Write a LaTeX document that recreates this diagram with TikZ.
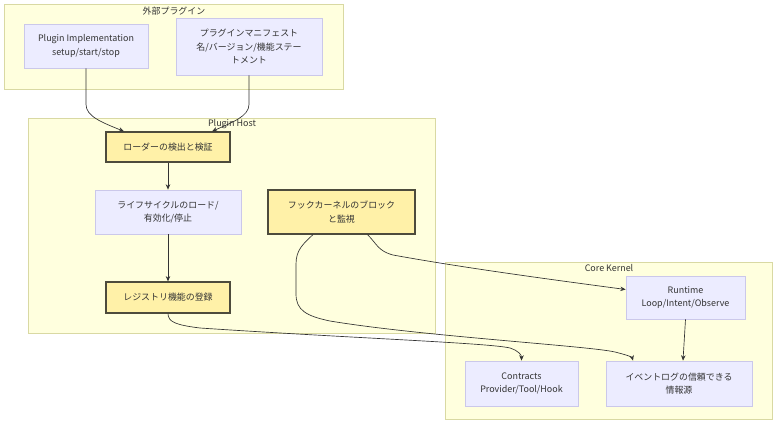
\documentclass[tikz,border=0pt]{standalone}
\usepackage{fontspec}
\setmainfont{Noto Sans CJK JP}
\usetikzlibrary{arrows.meta,calc}
\definecolor{clfill}{HTML}{FFFFDE}
\definecolor{cldraw}{HTML}{D9D9A3}
\definecolor{nfill}{HTML}{ECECFF}
\definecolor{ndraw}{HTML}{CBC8EA}
\definecolor{kfill}{HTML}{FFF1A8}
\definecolor{kdraw}{HTML}{4D4B3C}
\definecolor{ink}{HTML}{333333}
\begin{document}
\begin{tikzpicture}[x=0.75pt,y=-0.75pt,
		font=\fontsize{6.7}{10.2}\selectfont,text=ink,
		cluster/.style={fill=clfill,draw=cldraw,line width=0.6},
		dims/.style 2 args={minimum width=#1*0.75pt,minimum height=#2*0.75pt},
		plain/.style={fill=nfill,draw=ndraw,line width=0.6,align=center,inner sep=0pt},
		key/.style={fill=kfill,draw=kdraw,line width=0.9,align=center,inner sep=0pt},
		link/.style={draw=ink,line width=0.5,-{Stealth[length=4pt,width=3.4pt]}}]
		\useasboundingbox (0,0) rectangle (784,429);
		% subgraphs
		\draw[cluster] (4,4) rectangle (343,89);
		\draw[cluster] (28,118) rectangle (435,333);
		\draw[cluster] (445,262) rectangle (772,419);
		\node (exttitle) at (174,11) {外部プラグイン};
		\node (hosttitle) at (232,124) {Plugin Host};
		\node (coretitle) at (609,268) {Core Kernel};
		% nodes
		\node[plain,dims={124}{44}] (impl) at (86,46) {Plugin Implementation\\setup/start/stop};
		\node[plain,dims={146}{57}] (manifest) at (249,46.5) {プラグインマニフェスト\\名/バージョン/機能ステー\\トメント};
		\node[key,dims={124}{30}] (loader) at (168,147) {ローダーの検出と検証};
		\node[plain,dims={146}{44}] (life) at (168,212) {ライフサイクルのロード/\\有効化/停止};
		\node[key,dims={124}{31}] (registry) at (168,297.5) {レジストリ機能の登録};
		\node[key,dims={147}{44}] (hook) at (341.5,212) {フックカーネルのブロック\\と監視};
		\node[plain,dims={119}{43}] (runtime) at (685.5,297.5) {Runtime\\Loop/Intent/Observe};
		\node[plain,dims={113}{45}] (contracts) at (521.5,383.5) {Contracts\\Provider/Tool/Hook};
		\node[plain,dims={146}{45}] (eventlog) at (679,383.5) {イベントログの信頼できる\\情報源};
		% edges
		\draw[link] (impl.south) -- ++(0,36) .. controls +(0,12) and +(-22,-9) .. ($(loader.north)+(-44,0)$);
		\draw[link] (manifest.south) -- ++(0,29) .. controls +(0,12) and +(20,-9) .. ($(loader.north)+(44,0)$);
		\draw[link] (loader.south) -- (life.north);
		\draw[link] (life.south) -- (registry.north);
		\draw[link] ($(hook.south)+(26,0)$) .. controls (377,244) and (378,251) .. (393,255)
			.. controls (470,269) and (570,282) .. ($(runtime.west)+(0,-8)$);
		\draw[link] ($(hook.south)+(-28.5,0)$) .. controls (303,244) and (296,250) .. (296,264) -- (296,294)
			.. controls (296,310) and (306,316) .. (330,321)
			.. controls (420,336) and (590,346) .. (615,352)
			.. controls (627,355) and (632,357) .. ($(eventlog.north)+(-46,0)$);
		\draw[link] (registry.south) .. controls (168,322) and (176,325) .. (200,328)
			.. controls (350,338) and (490,343) .. (510,348)
			.. controls (519,351) and (521.5,355) .. (contracts.north);
		\draw[link] (runtime.south) -- ($(eventlog.north)+(4,0)$);
	\end{tikzpicture}
\end{document}
